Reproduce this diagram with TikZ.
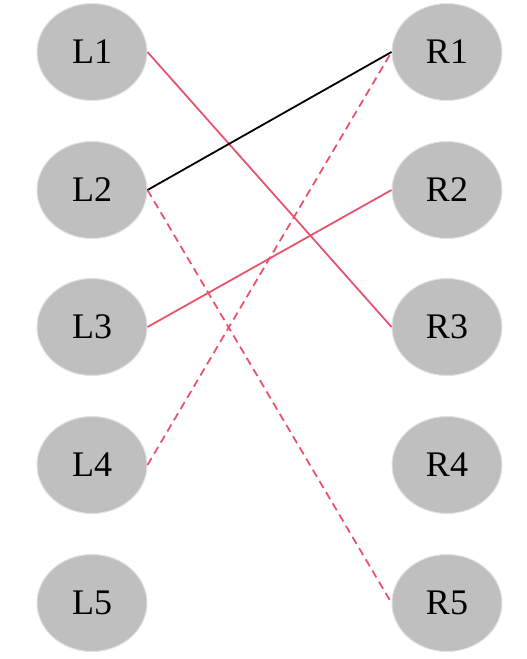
\documentclass[tikz,border=0pt]{standalone}
\usepackage{fontspec}
\setmainfont{Liberation Serif}
\usetikzlibrary{shapes.geometric}
\definecolor{nodefill}{HTML}{BFBFBF}
\definecolor{nodeedge}{HTML}{E2E2E2}
\definecolor{edgered}{HTML}{E8546C}
\begin{document}
\begin{tikzpicture}[x=1pt,y=-1pt,
  vtx/.style={ellipse,fill=nodefill,draw=nodeedge,line width=1pt,minimum width=110pt,minimum height=97pt,inner sep=0pt,font=\fontsize{36}{36}\selectfont},
  redline/.style={draw=edgered,line width=1.8pt},
  blackline/.style={draw=black,line width=1.8pt},
  dashline/.style={draw=edgered,line width=1.8pt,dash pattern=on 8pt off 5pt}]
\useasboundingbox (0,0) rectangle (527,659);
\node[vtx] (L1) at (92,52) {L1};
\node[vtx] (L2) at (92,190) {L2};
\node[vtx] (L3) at (92,327) {L3};
\node[vtx] (L4) at (92,465) {L4};
\node[vtx] (L5) at (92,603) {L5};
\node[vtx] (R1) at (447,52) {R1};
\node[vtx] (R2) at (447,190) {R2};
\node[vtx] (R3) at (447,327) {R3};
\node[vtx] (R4) at (447,465) {R4};
\node[vtx] (R5) at (447,603) {R5};
\draw[redline] (L1.east) -- (R3.west);
\draw[blackline] (L2.east) -- (R1.west);
\draw[redline] (L3.east) -- (R2.west);
\draw[dashline] (L2.east) -- (R5.west);
\draw[dashline] (L4.east) -- (R1.west);
\end{tikzpicture}
\end{document}
